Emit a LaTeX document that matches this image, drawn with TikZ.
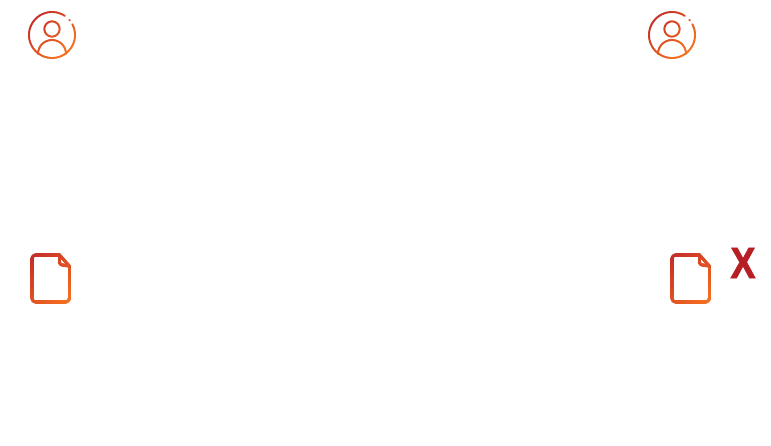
\documentclass[tikz,border=0pt]{standalone}
\usepackage{fontspec}
\setmainfont{Liberation Sans}
\newfontface\markfont{Liberation Sans Bold}[FakeBold=1.6]
\definecolor{gradA}{HTML}{C62E2A}
\definecolor{gradB}{HTML}{F4701F}
\definecolor{markred}{HTML}{B71F24}
\newcommand{\gradsize}{60}
\newcommand{\gradstart}{0}
% one short piece of stroke, coloured by its position along the diagonal
\newcommand{\gradpiece}[4]{%
  \pgfmathsetmacro{\gradt}{max(0,min(100,(#1+#2-\gradstart)/\gradsize*100))}%
  \colorlet{segc}{gradB!\gradt!gradA}%
  \draw[segc,line cap=round] (#1,#2) -- (#3,#4);}
\newcommand{\gradline}[4]{%
  \foreach \i in {1,...,16}{%
    \pgfmathsetmacro{\ax}{#1+(#3-#1)*((\i-1)/16)}%
    \pgfmathsetmacro{\ay}{#2+(#4-#2)*((\i-1)/16)}%
    \pgfmathsetmacro{\bx}{#1+(#3-#1)*(\i/16)}%
    \pgfmathsetmacro{\by}{#2+(#4-#2)*(\i/16)}%
    \gradpiece{\ax}{\ay}{\bx}{\by}}}
\newcommand{\gradarc}[6]{% cx cy r from to pieces
  \foreach \i in {1,...,#6}{%
    \pgfmathsetmacro{\anga}{#4+(#5-#4)*((\i-1)/#6)}%
    \pgfmathsetmacro{\angb}{#4+(#5-#4)*(\i/#6)}%
    \pgfmathsetmacro{\ax}{#1+#3*cos(\anga)}%
    \pgfmathsetmacro{\ay}{#2-#3*sin(\anga)}%
    \pgfmathsetmacro{\bx}{#1+#3*cos(\angb)}%
    \pgfmathsetmacro{\by}{#2-#3*sin(\angb)}%
    \gradpiece{\ax}{\ay}{\bx}{\by}}}
\newcommand{\personicon}[2]{%
  \begin{scope}[shift={(#1,#2)},line width=1.9pt]
    \renewcommand{\gradsize}{62}
    \renewcommand{\gradstart}{14}
    \gradarc{24}{24}{23}{56}{388}{72}
    \gradarc{24}{24}{23}{39}{41}{1}
    \gradarc{24}{18}{7.6}{0}{360}{32}
    \gradarc{24}{43}{14}{0}{180}{28}
  \end{scope}}
\newcommand{\docicon}[2]{%
  \begin{scope}[shift={(#1,#2)},line width=3.2pt]
    \renewcommand{\gradsize}{80}
    \renewcommand{\gradstart}{2}
    \gradline{4}{0}{27.5}{0}
    \gradline{27.5}{0}{37.3}{11}
    \gradline{37.3}{11}{37.3}{43}
    \gradarc{33.3}{43}{4}{0}{-90}{8}
    \gradline{33.3}{47}{4}{47}
    \gradarc{4}{43}{4}{-90}{-180}{8}
    \gradline{0}{43}{0}{4}
    \gradarc{4}{4}{4}{180}{90}{8}
    \gradline{27.5}{0}{27.5}{7}
    \gradarc{30.5}{7}{3}{180}{270}{6}
    \gradline{30.5}{10}{37.3}{11}
  \end{scope}}
\begin{document}
\begin{tikzpicture}[x=1pt,y=-1pt]
  \useasboundingbox (0,0) rectangle (771,446);
  \fill[white] (0,0) rectangle (771,446);
  \personicon{28}{11}
  \personicon{648}{11}
  \docicon{32}{255}
  \docicon{672}{255}
  \node[text=markred,inner sep=0pt,anchor=center,xscale=0.86] (mark) at (743,263) {\fontsize{44}{44}\markfont X};
\end{tikzpicture}
\end{document}
